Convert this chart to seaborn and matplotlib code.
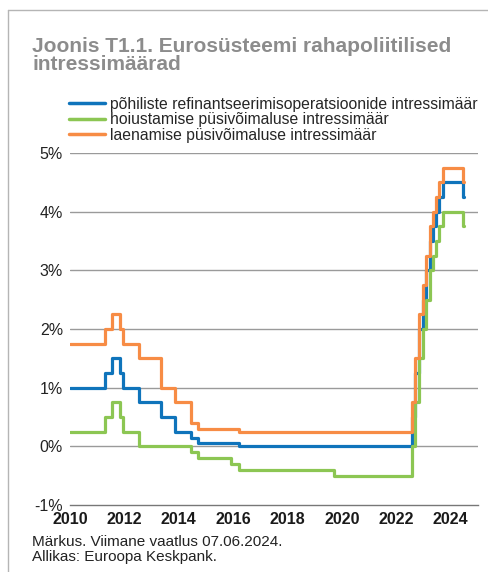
import numpy as np
import pandas as pd
import matplotlib
matplotlib.use("Agg")
import matplotlib.pyplot as plt
import seaborn as sns
from matplotlib.lines import Line2D

# ---- data: ECB policy rates (change dates and new levels, %) ----
mro_dates = ["2010-01-01", "2011-04-13", "2011-07-13", "2011-11-09", "2011-12-14", "2012-07-11",
             "2013-05-08", "2013-11-13", "2014-06-11", "2014-09-10", "2016-03-16", "2022-07-27",
             "2022-09-14", "2022-11-02", "2022-12-21", "2023-02-08", "2023-03-22", "2023-05-10",
             "2023-06-21", "2023-08-02", "2023-09-20", "2024-06-12", "2024-06-20"]
mro_values = [1.00, 1.25, 1.50, 1.25, 1.00, 0.75, 0.50, 0.25, 0.15, 0.05, 0.00, 0.50,
              1.25, 2.00, 2.50, 3.00, 3.50, 3.75, 4.00, 4.25, 4.50, 4.25, 4.25]

dep_dates = ["2010-01-01", "2011-04-13", "2011-07-13", "2011-11-09", "2011-12-14", "2012-07-11",
             "2014-06-11", "2014-09-10", "2015-12-09", "2016-03-16", "2019-09-18", "2022-07-27",
             "2022-09-14", "2022-11-02", "2022-12-21", "2023-02-08", "2023-03-22", "2023-05-10",
             "2023-06-21", "2023-08-02", "2023-09-20", "2024-06-12", "2024-06-20"]
dep_values = [0.25, 0.50, 0.75, 0.50, 0.25, 0.00, -0.10, -0.20, -0.30, -0.40, -0.50, 0.00,
              0.75, 1.50, 2.00, 2.50, 3.00, 3.25, 3.50, 3.75, 4.00, 3.75, 3.75]

mlf_dates = ["2010-01-01", "2011-04-13", "2011-07-13", "2011-11-09", "2011-12-14", "2012-07-11",
             "2013-05-08", "2013-11-13", "2014-06-11", "2014-09-10", "2016-03-16", "2022-07-27",
             "2022-09-14", "2022-11-02", "2022-12-21", "2023-02-08", "2023-03-22", "2023-05-10",
             "2023-06-21", "2023-08-02", "2023-09-20", "2024-06-12", "2024-06-20"]
mlf_values = [1.75, 2.00, 2.25, 2.00, 1.75, 1.50, 1.00, 0.75, 0.40, 0.30, 0.25, 0.75,
              1.50, 2.25, 2.75, 3.25, 3.75, 4.00, 4.25, 4.50, 4.75, 4.50, 4.50]

series_names = ["põhiliste refinantseerimisoperatsioonide intressimäär",
                "hoiustamise püsivõimaluse intressimäär",
                "laenamise püsivõimaluse intressimäär"]
colors = ["#0f74bb", "#8cc653", "#f78c45"]

y_ticks = [-1, 0, 1, 2, 3, 4, 5]
y_labels = ["-1%", "0%", "1%", "2%", "3%", "4%", "5%"]
x_major = list(range(2010, 2026, 2))

title = "Joonis T1.1. Eurosüsteemi rahapoliitilised\nintressimäärad"
note = "Märkus. Viimane vaatlus 07.06.2024.\nAllikas: Euroopa Keskpank."


def to_year(s):
    d = pd.Timestamp(s)
    start = pd.Timestamp(year=d.year, month=1, day=1)
    end = pd.Timestamp(year=d.year + 1, month=1, day=1)
    return d.year + (d - start) / (end - start)


frames = []
for name, dates, vals in zip(series_names, [mro_dates, dep_dates, mlf_dates],
                             [mro_values, dep_values, mlf_values]):
    frames.append(pd.DataFrame({"aasta": [to_year(d) for d in dates],
                                "määr": vals, "seeria": name}))
df = pd.concat(frames, ignore_index=True)

sns.set_theme(style="white")
plt.rcParams["font.family"] = ["Liberation Sans", "DejaVu Sans"]

fig = plt.figure(figsize=(4.89, 5.72), dpi=100)
ax = fig.add_axes([70 / 489, 1 - 505 / 572, (478 - 70) / 489, (505 - 153) / 572])

# gridlines
for yv in y_ticks[1:]:
    ax.axhline(yv, color="#9a9a9a", lw=1.0, zorder=0)

for name, col in zip(series_names, colors):
    sub = df[df["seeria"] == name]
    sns.lineplot(data=sub, x="aasta", y="määr", ax=ax, color=col, lw=2.3,
                 drawstyle="steps-post", legend=False, zorder=3)

ax.set_xlim(2010, 2025)
ax.set_ylim(-1, 5)
ax.set_xlabel("")
ax.set_ylabel("")
ax.set_yticks(y_ticks)
ax.set_yticklabels(y_labels, fontsize=11.5, color="#222222")
ax.set_xticks(x_major)
ax.set_xticklabels([str(x) for x in x_major], fontsize=11.5, fontweight="bold", color="#1a1a1a")
ax.set_xticks(list(range(2010, 2026)), minor=True)
ax.tick_params(axis="y", length=0, pad=5)
ax.tick_params(axis="x", which="both", direction="in", length=7, width=1, color="#777777", pad=5)
for s in ["top", "right", "left"]:
    ax.spines[s].set_visible(False)
ax.spines["bottom"].set_color("#777777")
ax.spines["bottom"].set_linewidth(1)
ax.set_facecolor("none")

# legend
handles = [Line2D([0], [0], color=c, lw=2.5) for c in colors]
fig.legend(handles, series_names, loc="upper left", bbox_to_anchor=(69 / 489, 1 - 97 / 572),
           frameon=False, fontsize=11.35, handlelength=2.3, handletextpad=0.3,
           labelspacing=0.03, borderaxespad=0, borderpad=0)

# title and note
fig.text(32 / 489, 1 - 37 / 572, title, fontsize=15, fontweight="bold", color="#8c8c8c",
         va="top", ha="left", linespacing=0.9)
fig.text(32 / 489, 1 - 535 / 572, note, fontsize=11, color="#222222", va="top", ha="left",
         linespacing=1.1)

# frame lines
fig.add_artist(Line2D([8 / 489, 8 / 489], [0, 1 - 10 / 572], color="#b5b5b5", lw=1,
                      transform=fig.transFigure))
fig.add_artist(Line2D([8 / 489, 1], [1 - 10 / 572, 1 - 10 / 572], color="#b5b5b5", lw=1,
                      transform=fig.transFigure))

fig.savefig("out.png", dpi=100)
